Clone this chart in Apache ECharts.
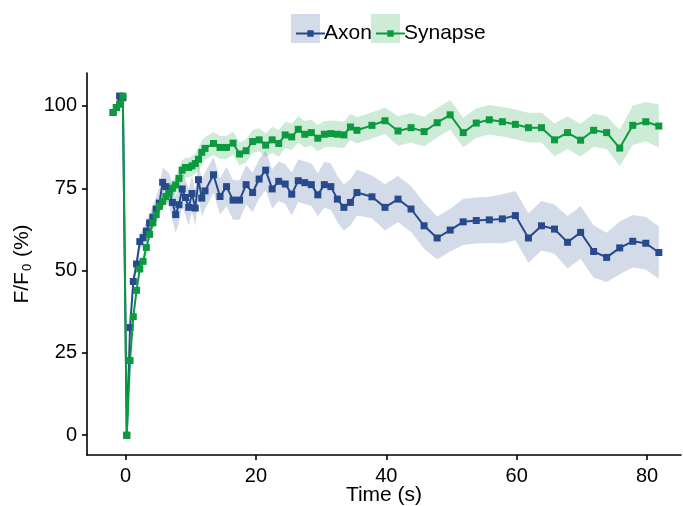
<!DOCTYPE html>
<html>
<head>
<meta charset="utf-8">
<script src="https://cdn.jsdelivr.net/npm/echarts@6/dist/echarts.min.js"></script>
<style>html,body{margin:0;padding:0;background:#fff;}#c{width:683px;height:506px;}</style>
</head>
<body>
<div id="c"></div>
<script>
// Time (s)
var time = [-1.9, -1.4, -0.9, -0.4,
  0.2, 0.7, 1.2, 1.7, 2.2, 2.7, 3.2, 3.7, 4.2, 4.7, 5.2, 5.7, 6.2, 6.7, 7.2, 7.7, 8.2, 8.7, 9.2, 9.7, 10.2, 10.7, 11.2, 11.7, 12.2,
  13.5, 14.5, 15.5, 16.5, 17.5, 18.5, 19.5, 20.5, 21.5, 22.5, 23.5, 24.5, 25.5, 26.5, 27.5, 28.5, 29.5, 30.5, 31.5, 32.5, 33.5, 34.5, 35.5,
  37.8, 39.8, 41.8, 43.8, 45.8, 47.8, 49.8, 51.8, 53.8, 55.8, 57.8, 59.8, 61.8, 63.8, 65.8, 67.8, 69.8, 71.8, 73.8, 75.8, 77.8, 79.8, 81.8];

// Axon mean F/F0 (%)
var axon = [98, 99.5, 103, 102.5,
  0, 32.7, 46.7, 52, 58.8, 60, 62, 64.5, 66.2, 68.7, 70.5, 76.8, 75.5, 74.5, 70.7, 67.0, 70.0, 74.8, 72.2, 69.2, 73.4, 69.0, 77.6, 72.0, 74.2,
  79.1, 72.5, 75.5, 71.4, 71.4, 76.1, 73.7, 77.8, 80.5, 74.8, 77.1, 76.3, 73.2, 77.3, 76.7, 76.1, 73.0, 76.1, 75.5, 71.7, 69.2, 70.7, 73.7,
  72.4, 69.2, 71.7, 68.7, 63.6, 59.9, 62.3, 64.8, 65.2, 65.4, 65.7, 66.7, 59.9, 63.6, 62.6, 58.6, 61.6, 55.8, 54.0, 56.9, 58.9, 58.3, 55.5];

// Axon error (half band width)
var axonErr = [1, 1, 1, 1,
  0.5, 1.5, 2, 2, 2.5, 2.5, 3, 3, 3.5, 4, 4.5, 4.5, 5, 5, 5.5, 5.5, 5.5, 5.5, 5.5, 5.5, 5.5, 5.5, 5.5, 5.5, 5.5,
  5.5, 5.5, 6, 6, 6, 6, 6, 6, 6, 6, 6, 6, 6.5, 6.5, 6.5, 6.5, 6.5, 7, 7, 7, 7, 7, 7,
  6.5, 7, 7, 7, 7, 6.5, 6.5, 7, 7, 7, 7.5, 7.5, 7.5, 7.5, 7.5, 8, 8, 8, 7.5, 8, 8, 8, 8];

// Synapse mean F/F0 (%)
var synapse = [98, 99.5, 100.5, 103,
  0, 22.7, 36, 44, 50.5, 52.8, 57, 61, 64.5, 67, 69.5, 71, 72.5, 73.5, 75, 76, 78, 80.5, 81.3, 81.3, 81.8, 82.5, 83.8, 85.9, 87.1,
  88.6, 87.4, 87.4, 88.7, 85.4, 86.4, 89.2, 89.7, 88.1, 89.7, 88.6, 91.2, 90.6, 92.9, 91.4, 91.9, 90.2, 91.4, 91.6, 91.4, 91.2, 93.6, 92.6,
  94.1, 95.5, 92.4, 93.4, 92.2, 94.9, 97.3, 91.9, 94.8, 95.8, 95.2, 94.4, 93.4, 93.4, 89.7, 91.9, 89.6, 92.6, 91.9, 87.2, 94.1, 95.2, 93.9];

// Synapse error (half band width)
var synapseErr = [1, 1, 1, 1,
  0.5, 1, 1.5, 1.5, 1.5, 1.5, 2, 2, 2, 2, 2, 2, 2, 2.5, 2.5, 2.5, 3, 3, 3, 3, 3, 3, 3.5, 3.5, 3.5,
  3.5, 3.5, 3.5, 3.5, 3.5, 3.5, 3.5, 3.5, 3.5, 4, 4, 4, 4, 4, 4, 4, 4, 4, 4, 4, 4, 4, 4,
  4, 4, 4.5, 4.5, 4.5, 4.5, 4.5, 4.5, 4.5, 4.5, 4.5, 4.5, 4.5, 4.5, 5, 5, 5, 5, 5, 5.5, 6, 6, 6.5];

var xTicks = [0, 20, 40, 60, 80];
var yTicks = [0, 25, 50, 75, 100];

var AX = '#264a8c', SY = '#0c9a3e';
var AXB = 'rgba(38,74,140,0.2)', SYB = 'rgba(12,154,62,0.2)';
var FONT = 'Liberation Sans';

function pts(v) { return time.map(function (t, i) { return [t, v[i]]; }); }

function bandSeries(name, mean, err, color) {
  return {
    name: name, type: 'custom', silent: true, z: 1, clip: false,
    data: time.map(function (t, i) { return [t, mean[i] - err[i], mean[i] + err[i]]; }),
    encode: {x: 0, y: [1, 2]},
    renderItem: function (params, api) {
      if (params.dataIndex !== 0) return null;
      var up = [], lo = [];
      for (var i = 0; i < time.length; i++) {
        up.push(api.coord([time[i], mean[i] + err[i]]));
        lo.unshift(api.coord([time[i], mean[i] - err[i]]));
      }
      return {type: 'polygon', shape: {points: up.concat(lo)}, style: {fill: color}, silent: true};
    }
  };
}

var iconPath = 'path://M0,0L0.01,0L0.01,0.01ZM28.99,29L29,29L29,28.99ZM0,13.6L29,13.6L29,15.4L0,15.4ZM11.3,11.3L17.7,11.3L17.7,17.7L11.3,17.7Z';

var chart = echarts.init(document.getElementById('c'), null, {renderer: 'canvas'});
var legendCommon = {top: 14, itemWidth: 29, itemHeight: 29, selectedMode: false, itemGap: 0,
  textStyle: {fontSize: 21, color: '#000', fontFamily: FONT, padding: [0, 0, 0, -6]}};
chart.setOption({
  animation: false,
  backgroundColor: '#fff',
  grid: {left: 87, right: 2, top: 73, bottom: 51, containLabel: false, outerBoundsMode: 'none'},
  graphic: [
    {type: 'rect', left: 291, top: 14, shape: {width: 29, height: 29}, style: {fill: AXB}, z: 0},
    {type: 'rect', left: 371, top: 14, shape: {width: 29, height: 29}, style: {fill: SYB}, z: 0}
  ],
  legend: [
    Object.assign({left: 291, data: [{name: 'Axon', icon: iconPath, itemStyle: {color: AX, borderWidth: 0}}]}, legendCommon),
    Object.assign({left: 371, data: [{name: 'Synapse', icon: iconPath, itemStyle: {color: SY, borderWidth: 0}}]}, legendCommon)
  ],
  xAxis: {
    type: 'value', min: -5.9, max: 85.2,
    name: 'Time (s)', nameLocation: 'middle', nameGap: 30, nameMoveOverlap: false,
    nameTextStyle: {fontSize: 21, color: '#000', fontFamily: FONT},
    axisLine: {show: true, onZero: false, lineStyle: {color: '#000', width: 1.6}},
    axisTick: {show: true, length: 5, lineStyle: {color: '#000', width: 1.6}, customValues: xTicks},
    axisLabel: {fontSize: 20, color: '#000', fontFamily: FONT, margin: 11, customValues: xTicks},
    splitLine: {show: false}
  },
  yAxis: {
    type: 'value', min: -6, max: 110,
    name: 'F/F{sub|0} (%)', nameLocation: 'middle', nameGap: 53, nameRotate: 90, nameMoveOverlap: false,
    nameTextStyle: {fontSize: 21, color: '#000', fontFamily: FONT,
      rich: {sub: {fontSize: 13, color: '#000', fontFamily: FONT, verticalAlign: 'bottom', padding: [10, 1, 0, 1]}}},
    axisLine: {show: true, onZero: false, lineStyle: {color: '#000', width: 1.6}},
    axisTick: {show: true, length: 5, lineStyle: {color: '#000', width: 1.6}, customValues: yTicks},
    axisLabel: {fontSize: 20, color: '#000', fontFamily: FONT, margin: 10, customValues: yTicks},
    splitLine: {show: false}
  },
  series: [
    bandSeries('axonBand', axon, axonErr, AXB),
    bandSeries('synapseBand', synapse, synapseErr, SYB),
    {name: 'Axon', type: 'line', data: pts(axon), symbol: 'rect', symbolSize: 7, z: 3,
      itemStyle: {color: AX}, lineStyle: {color: AX, width: 2}},
    {name: 'Synapse', type: 'line', data: pts(synapse), symbol: 'rect', symbolSize: 7, z: 4,
      itemStyle: {color: SY}, lineStyle: {color: SY, width: 2}}
  ]
});
</script>
</body>
</html>
